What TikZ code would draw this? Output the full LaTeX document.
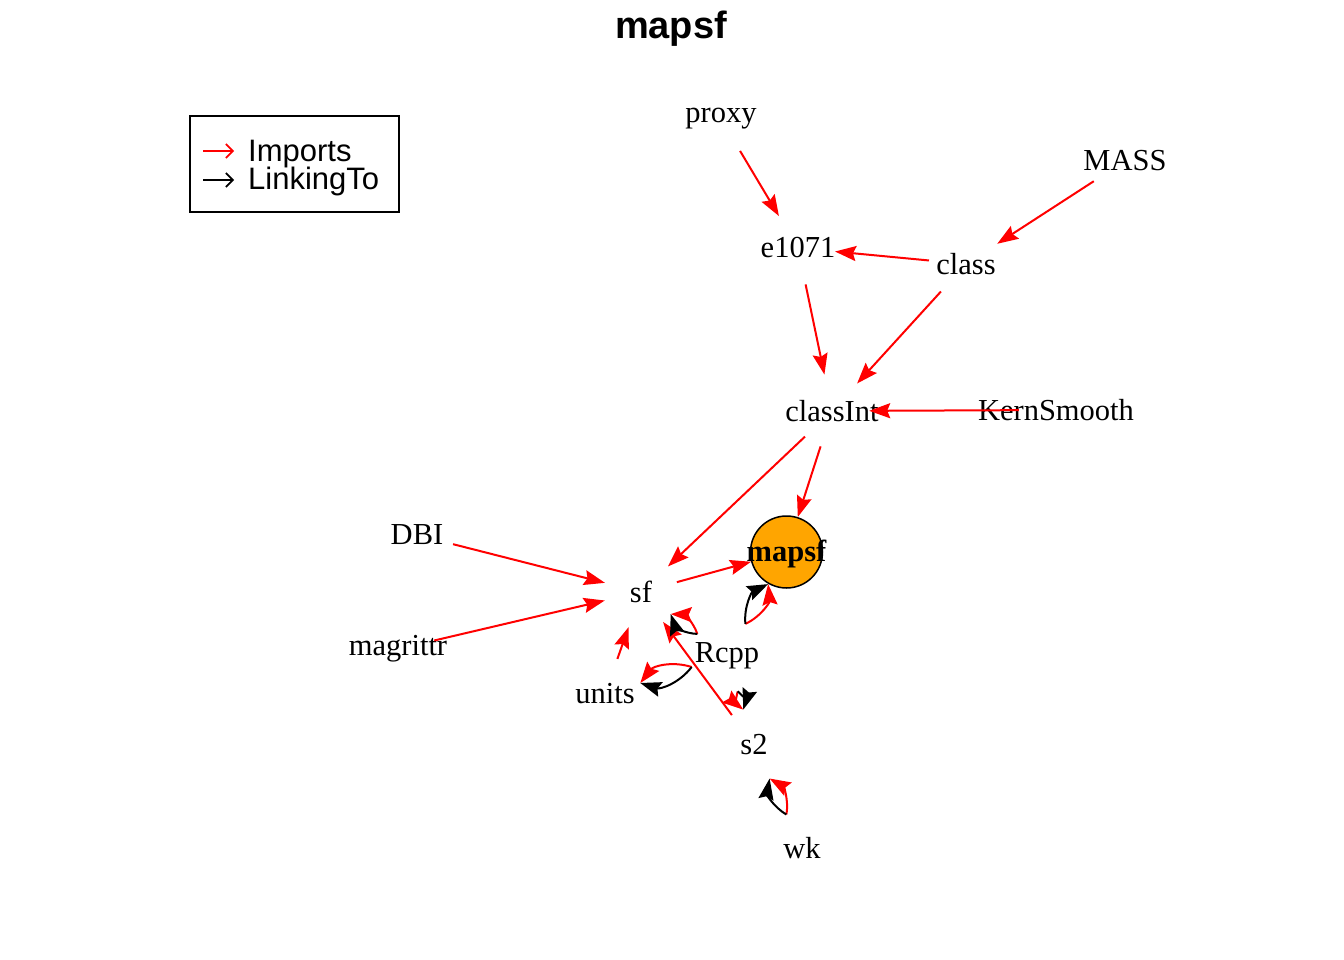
\documentclass[tikz,border=0pt]{standalone}
\usepackage{fontspec}
\setmainfont{Liberation Serif}
\setsansfont{Liberation Sans}
\usetikzlibrary{arrows.meta,calc}

\definecolor{pkgorange}{RGB}{255,165,0}
\newcommand{\pkgfont}{\fontsize{30.5}{36}\selectfont}

\begin{document}
\begin{tikzpicture}[x=1pt,y=-1pt,
  vtx/.style={circle,minimum size=74pt,inner sep=0pt},
  every label/.style={font=\pkgfont,inner sep=0pt},
  imp/.style={draw=red,line width=2pt,-{Stealth[length=21pt,width=15pt,inset=3pt]}},
  lnk/.style={imp,draw=black}]
\useasboundingbox (0,0) rectangle (1344,960);

\node[font=\sffamily\bfseries\fontsize{38}{44}\selectfont,anchor=base] (title) at (671,39) {mapsf};

% legend
\node[draw,line width=1.5pt,minimum width=209pt,minimum height=96pt,inner sep=0pt] (legend) at (294.5,164) {};
\node[anchor=base west,font=\sffamily\fontsize{31}{36}\selectfont,inner sep=0pt] (leg-imp) at (248,162) {Imports};
\node[anchor=base west,font=\sffamily\fontsize{31}{36}\selectfont,inner sep=0pt] (leg-lnk) at (248,190) {LinkingTo};
\coordinate (imp-a) at (203,151);
\coordinate (imp-b) at (234,151);
\coordinate (lnk-a) at (203,180);
\coordinate (lnk-b) at (234,180);
\draw[red,line width=1.6pt,-{Straight Barb[length=7pt,width=14pt]}] (imp-a) -- (imp-b);
\draw[black,line width=1.6pt,-{Straight Barb[length=7pt,width=14pt]}] (lnk-a) -- (lnk-b);

% packages
\node[vtx,label=center:proxy] (proxy) at (721,119) {};
\node[vtx,label=center:MASS] (MASS) at (1125,161) {};
\node[vtx,label=center:e1071] (e1071) at (798,248) {};
\node[vtx,label=center:class] (class) at (966,264) {};
\node[vtx,label=center:classInt] (classInt) at (832,411) {};
\node[vtx,label=center:KernSmooth] (KernSmooth) at (1056,410) {};
\node[vtx,label=center:DBI] (DBI) at (417,535) {};
\node[vtx,label=center:sf] (sf) at (641,592) {};
\node[vtx,minimum size=72pt,draw,line width=1.5pt,fill=pkgorange,
  label={[font=\pkgfont\bfseries,yshift=-2pt]center:mapsf}] (mapsf) at (786.5,552) {};
\node[vtx,label=center:magrittr] (magrittr) at (398,649) {};
\node[vtx,label=center:Rcpp] (Rcpp) at (727,656) {};
\node[vtx,label=center:units] (units) at (605,694) {};
\node[vtx,label=center:s2] (s2) at (754,745) {};
\node[vtx,label=center:wk] (wk) at (802,848) {};

% Imports
\draw[imp] (proxy) -- (e1071);
\draw[imp] (MASS) -- (class);
\draw[imp] (class) -- (e1071);
\draw[imp] (e1071) -- (classInt);
\draw[imp] (class) -- (classInt);
\draw[imp] (KernSmooth) -- (classInt);
\draw[imp] (classInt) -- (sf);
\draw[imp] (classInt) -- (mapsf);
\draw[imp] (DBI) -- (sf);
\draw[imp] (magrittr) -- (sf);
\draw[imp] (sf) -- (mapsf);
\draw[imp] (units) -- (sf);
\draw[imp] (s2) -- (sf);

% Imports + LinkingTo
\foreach \a/\b in {Rcpp/sf,Rcpp/mapsf,Rcpp/units,Rcpp/s2,wk/s2} {
  \draw[imp] ($(\a)!37pt!(\b)$) to[bend right=35] ($(\b)!37pt!(\a)$);
  \draw[lnk] ($(\a)!37pt!(\b)$) to[bend left=35] ($(\b)!37pt!(\a)$);
}
\end{tikzpicture}
\end{document}
